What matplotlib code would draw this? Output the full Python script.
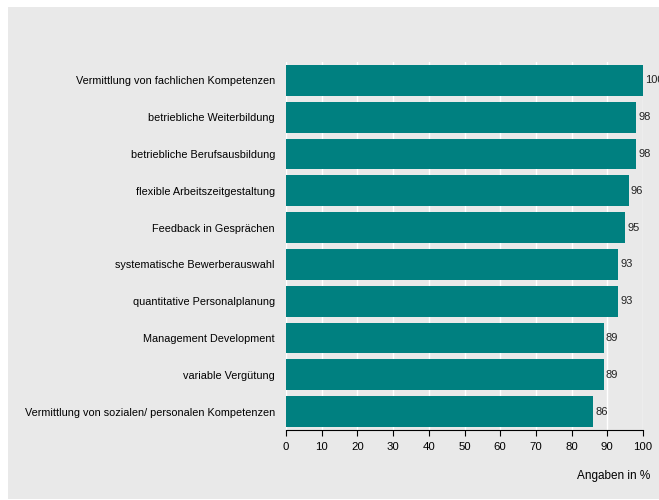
import matplotlib.pyplot as plt
from matplotlib.patches import Rectangle

plt.rcParams['font.family'] = ['Liberation Sans', 'DejaVu Sans']

labels = ["Vermittlung von fachlichen Kompetenzen",
          "betriebliche Weiterbildung",
          "betriebliche Berufsausbildung",
          "flexible Arbeitszeitgestaltung",
          "Feedback in Gesprächen",
          "systematische Bewerberauswahl",
          "quantitative Personalplanung",
          "Management Development",
          "variable Vergütung",
          "Vermittlung von sozialen/ personalen Kompetenzen"]
values = [100, 98, 98, 96, 95, 93, 93, 89, 89, 86]
xticks = list(range(0, 101, 10))

bg = "#e9e9e9"
teal = "#008080"

fig = plt.figure(figsize=(6.59, 5.0), dpi=100)
# grey panel behind everything, white margin at top and left
fig.patches.append(Rectangle((8/659, 0.002), 1, 0.984, transform=fig.transFigure,
                             facecolor=bg, edgecolor="none", zorder=-10))

ax = fig.add_axes([286/659, 70/500, 357/659, 368/500])
ax.set_facecolor(bg)
ypos = range(len(labels))
ax.barh(ypos, values, height=0.84, color=teal, zorder=3)
for y, v in zip(ypos, values):
    ax.text(v + 0.6, y, str(v), va="center", ha="left", fontsize=8, color="#222222")

ax.set_xlim(0, 100)
ax.set_ylim(9.5, -0.5)
ax.set_xticks(xticks)
ax.set_yticks(list(ypos))
ax.set_yticklabels(labels, fontsize=7.8)
ax.tick_params(axis="y", length=0, pad=8)
ax.tick_params(axis="x", labelsize=8.2, length=4, direction="out", pad=5)
ax.grid(axis="x", color="white", linewidth=1, zorder=1)
for s in ["top", "right", "left"]:
    ax.spines[s].set_visible(False)
ax.spines["bottom"].set_color("black")

fig.text(650/659, 1 - 476/500, "Angaben in %", ha="right", va="center", fontsize=8.5)

fig.savefig("out.png", dpi=100)
